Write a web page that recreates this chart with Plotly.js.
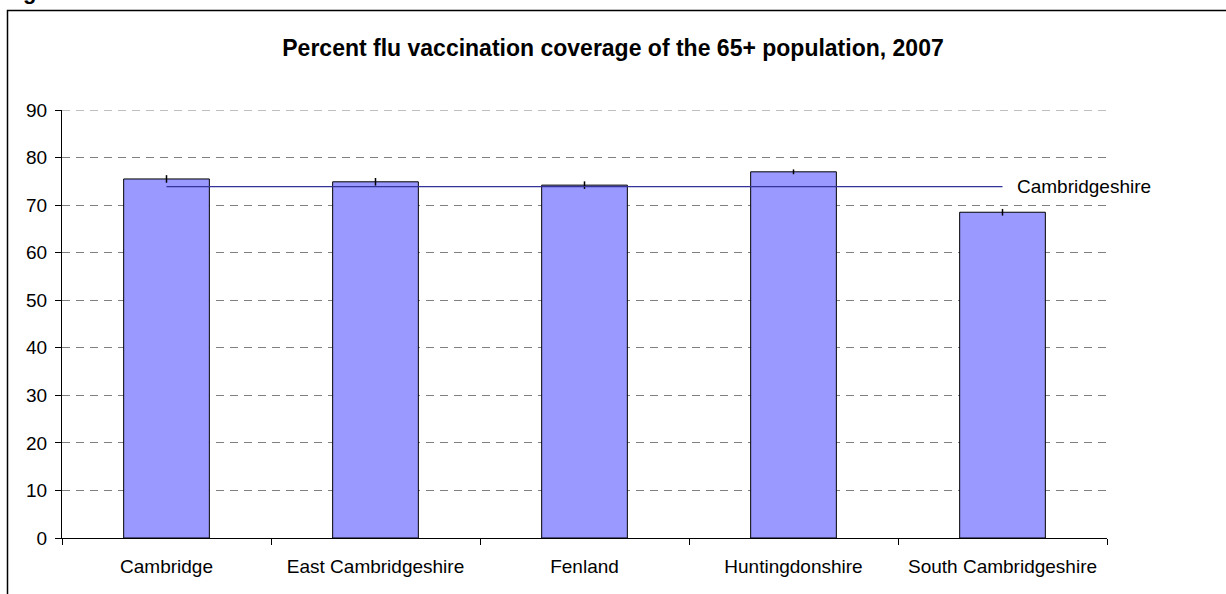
<!DOCTYPE html>
<html>
<head>
<meta charset="utf-8">
<script src="https://cdn.plot.ly/plotly-3.0.1.min.js"></script>
<style>html,body{margin:0;padding:0;background:#fff;}#chart{width:1226px;height:594px;}</style>
</head>
<body>
<div id="chart"></div>
<script>
const categories = ["Cambridge", "East Cambridgeshire", "Fenland", "Huntingdonshire", "South Cambridgeshire"];
const coverage = [75.5, 74.9, 74.2, 77.0, 68.5];
const errorHalf = [0.8, 0.8, 0.8, 0.5, 0.7];
const countyName = "Cambridgeshire";
const countyValue = 73.9;
const yTicks = [0, 10, 20, 30, 40, 50, 60, 70, 80, 90];
const titleText = "Percent flu vaccination coverage of the 65+ population, 2007";

const L = 62, R = 119, T = 110, B = 56, W = 1226, H = 594;
const pw = W - L - R, ph = H - T - B;
const px = v => (v - L) / pw;
const py = v => (H - B - v) / ph;

const font = "Arial, 'Liberation Sans', sans-serif";
const yMax = yTicks[yTicks.length - 1];

const traces = [
  {
    type: "bar",
    x: categories,
    y: coverage,
    width: 0.41,
    marker: {color: "#9999FF", line: {color: "#000000", width: 1}},
    error_y: {type: "data", array: errorHalf, visible: true, color: "#000000", thickness: 1.5, width: 0},
    hoverinfo: "x+y",
    showlegend: false
  },
  {
    type: "scatter",
    mode: "lines",
    x: [categories[0], categories[categories.length - 1]],
    y: [countyValue, countyValue],
    line: {color: "#333399", width: 1.2},
    showlegend: false,
    name: countyName
  }
];

const layout = {
  width: W, height: H,
  margin: {l: L, r: R, t: T, b: B},
  paper_bgcolor: "#ffffff",
  plot_bgcolor: "#ffffff",
  font: {family: font, size: 19, color: "#000000"},
  title: {text: "<b>" + titleText + "</b>", font: {family: font, size: 23, color: "#000"}, x: 0.5, xanchor: "center", y: 1 - 48 / H, yanchor: "middle"},
  showlegend: false,
  bargap: 0.59,
  xaxis: {
    type: "category",
    range: [-0.5, categories.length - 0.5],
    showline: true, linecolor: "#000", linewidth: 1,
    ticks: "outside", tickson: "boundaries", ticklen: 6, tickcolor: "#000",
    showgrid: false, zeroline: false,
    ticklabelstandoff: 11,
    tickfont: {family: font, size: 19, color: "#000"},
    fixedrange: true
  },
  yaxis: {
    range: [0, yMax],
    tickvals: yTicks,
    showline: true, linecolor: "#000", linewidth: 1,
    ticks: "outside", ticklen: 6, tickcolor: "#000",
    showgrid: true, gridcolor: "#808080", gridwidth: 1, griddash: "8px,6px",
    zeroline: false,
    ticklabelstandoff: 4,
    tickfont: {family: font, size: 19, color: "#000"},
    fixedrange: true
  },
  annotations: [
    {
      x: categories[categories.length - 1], y: countyValue, xref: "x", yref: "y",
      text: countyName, showarrow: false, xanchor: "left", yanchor: "middle", xshift: 12,
      font: {family: font, size: 19, color: "#000"}
    },
    {
      x: px(29), y: py(6), xref: "paper", yref: "paper",
      text: "<b>g</b>", showarrow: false, xanchor: "center", yanchor: "bottom",
      font: {family: font, size: 22, color: "#000"}
    }
  ],
  shapes: [
    {
      type: "line", xref: "paper", yref: "y",
      x0: 0, x1: 1, y0: yMax, y1: yMax,
      line: {color: "#808080", width: 1, dash: "8px,6px"}
    },
    {
      type: "rect", xref: "paper", yref: "paper",
      x0: px(7.5), x1: px(1240), y0: py(610), y1: py(10.5),
      line: {color: "#000", width: 1.5}, fillcolor: "rgba(0,0,0,0)", layer: "below"
    }
  ]
};

Plotly.newPlot("chart", traces, layout, {displayModeBar: false, staticPlot: true});
</script>
</body>
</html>
